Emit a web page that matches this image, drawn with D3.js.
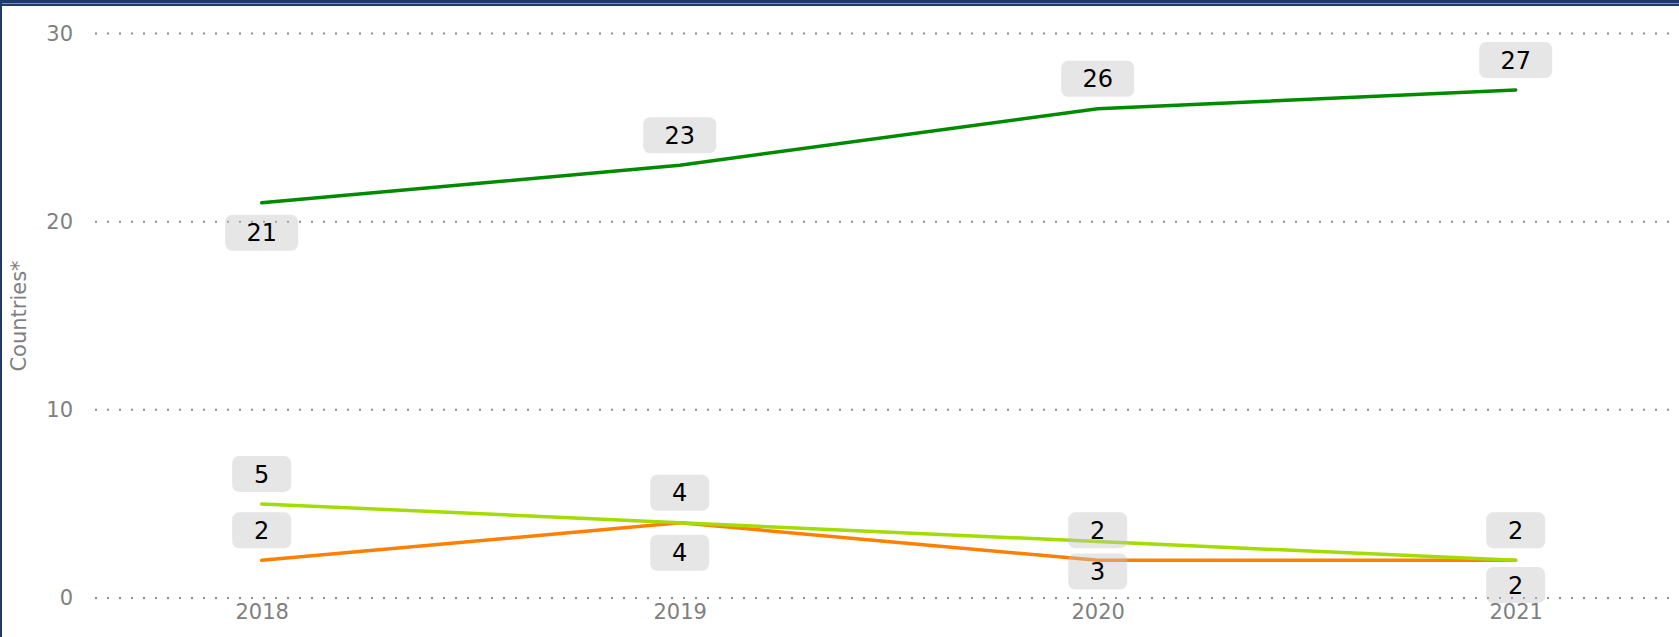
<!DOCTYPE html>
<html>
<head>
<meta charset="utf-8">
<script src="https://cdn.jsdelivr.net/npm/d3@7"></script>
<style>
  html, body { margin: 0; padding: 0; background: #fff; }
  svg { display: block; font-family: "DejaVu Sans", Verdana, sans-serif; }
</style>
</head>
<body>
<div id="chart"></div>
<script>
const WIDTH = 1679
const HEIGHT = 637

// données
const years = ["2018", "2019", "2020", "2021"]
const yTicks = [0, 10, 20, 30]
const greenValues = [21, 23, 26, 27]
const limeValues = [5, 4, 3, 2]
const orangeValues = [2, 4, 2, 2]
// côté de chaque étiquette (-1 = au-dessus, 1 = en dessous)
const greenSides = [1, -1, -1, -1]
const limeSides = [-1, -1, 1, -1]
const orangeSides = [-1, 1, -1, 1]

const series = [
    { name: "green", values: greenValues, sides: greenSides, color: "#008a00" },
    { name: "orange", values: orangeValues, sides: orangeSides, color: "#ff8000" },
    { name: "lime", values: limeValues, sides: limeSides, color: "#a2dc00" }
]

const svg = d3.select("#chart")
    .append("svg")
    .attr("width", WIDTH)
    .attr("height", HEIGHT)

const x = d3.scalePoint()
    .domain(years)
    .range([261.7, 1515.7])

const y = d3.scaleLinear()
    .domain([0, 30])
    .range([598, 33.5])

// bordure
svg.append("rect")
    .attr("x", 0).attr("y", 0)
    .attr("width", WIDTH).attr("height", 6)
    .attr("fill", "#1f3a6b")
svg.append("rect")
    .attr("x", 0).attr("y", 3)
    .attr("width", WIDTH).attr("height", 1)
    .attr("fill", "#7c93bb")
svg.append("rect")
    .attr("x", 0).attr("y", 0)
    .attr("width", 2).attr("height", HEIGHT)
    .attr("fill", "#1f3a6b")

// grille pointillée
svg.append("g")
    .selectAll("line")
    .data(yTicks)
    .enter()
    .append("line")
    .attr("x1", 95)
    .attr("x2", WIDTH)
    .attr("y1", d => y(d))
    .attr("y2", d => y(d))
    .attr("stroke", "#8c8c8c")
    .attr("stroke-width", 2)
    .attr("stroke-dasharray", "2,10")

// axe y
const yAxis = svg.append("g")
    .attr("transform", "translate(73,0)")
    .call(d3.axisLeft(y).tickValues(yTicks).tickSize(0).tickPadding(0))
yAxis.select(".domain").remove()
yAxis.selectAll("text")
    .attr("fill", "#7f7f7f")
    .style("font-size", "21px")
    .style("font-family", "DejaVu Sans, Verdana, sans-serif")

// axe x
const xAxis = svg.append("g")
    .attr("transform", "translate(0,604)")
    .call(d3.axisBottom(x).tickSize(0).tickPadding(0))
xAxis.select(".domain").remove()
xAxis.selectAll("text")
    .attr("fill", "#7f7f7f")
    .style("font-size", "21px")
    .style("font-family", "DejaVu Sans, Verdana, sans-serif")

svg.append("text")
    .attr("transform", "translate(26,316) rotate(-90)")
    .attr("text-anchor", "middle")
    .attr("fill", "#7f7f7f")
    .style("font-size", "21px")
    .text("Countries*")

// lignes
const line = d3.line()
    .x((d, i) => x(years[i]))
    .y(d => y(d))

svg.append("g")
    .selectAll("path")
    .data(series)
    .enter()
    .append("path")
    .attr("d", d => line(d.values))
    .attr("fill", "none")
    .attr("stroke", d => d.color)
    .attr("stroke-width", 3.5)
    .attr("stroke-linecap", "round")

// étiquettes
const labels = []
series.forEach(s => {
    s.values.forEach((v, i) => {
        let cy = y(v) + s.sides[i] * 30
        if (cy + 18 > y(0) + 5) cy = y(0) + 5 - 18
        labels.push({ text: String(v), cx: x(years[i]), cy: cy })
    })
})

const lab = svg.append("g")
    .selectAll("g")
    .data(labels)
    .enter()
    .append("g")
    .attr("transform", d => `translate(${d.cx},${d.cy})`)

lab.append("rect")
    .attr("x", d => d.text.length > 1 ? -36.5 : -29.5)
    .attr("y", -18)
    .attr("width", d => d.text.length > 1 ? 73 : 59)
    .attr("height", 36)
    .attr("rx", 7)
    .attr("fill", "rgba(195,195,195,0.42)")

lab.append("text")
    .attr("text-anchor", "middle")
    .attr("dy", "0.36em")
    .attr("fill", "#000")
    .style("font-size", "24px")
    .text(d => d.text)
</script>
</body>
</html>
